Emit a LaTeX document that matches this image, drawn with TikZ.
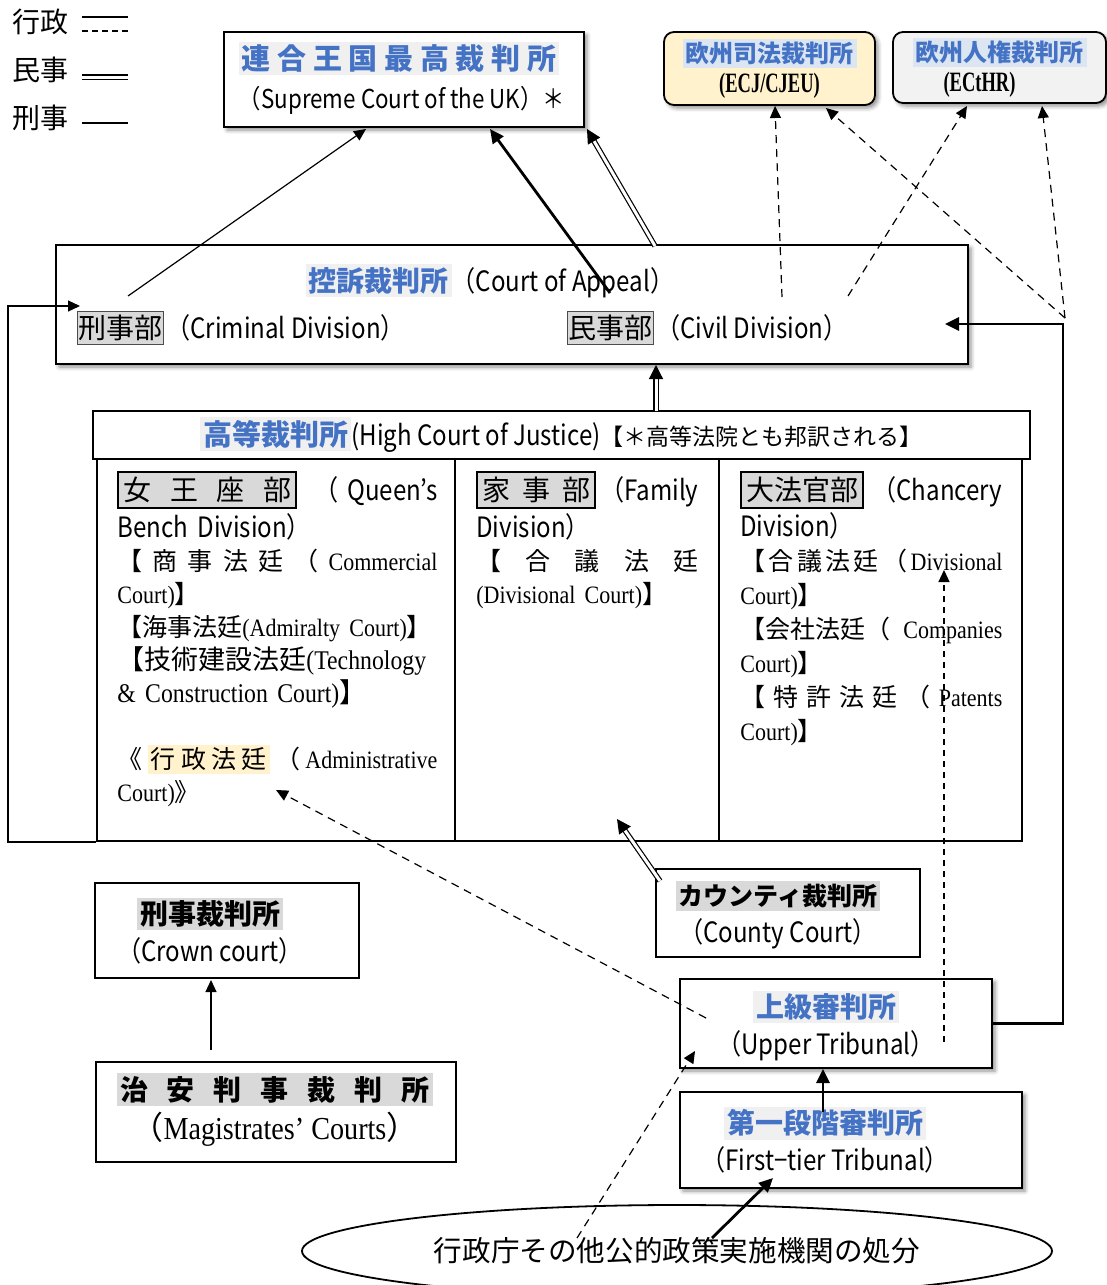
\documentclass[tikz,border=0pt]{standalone}
\usepackage{fontspec}
\setmainfont{Noto Sans CJK JP}
\newfontfamily\enf[FakeStretch=0.86]{Noto Sans CJK JP}
\newfontfamily\romf[FakeStretch=0.88]{Liberation Serif}
\newfontfamily\romc[FakeStretch=0.66]{Liberation Serif}
\usetikzlibrary{positioning, shapes, arrows.meta, shadows.blur, calc}

\definecolor{bluetxt}{HTML}{4472C4}
\definecolor{hlgray}{HTML}{F0F0F0}
\definecolor{hlblue}{HTML}{DCE6F2}
\definecolor{graybox}{HTML}{D9D9D9}
\definecolor{admhl}{HTML}{FFF2CC}
\definecolor{ecjfill}{HTML}{FFF2CC}
\definecolor{echrfill}{HTML}{F2F2F2}

\newcommand{\hlbox}[2]{{\setlength{\fboxsep}{1.5pt}\colorbox{#1}{#2}}}
\newcommand{\bluetitle}[1]{\hlbox{hlgray}{\color{bluetxt}\bfseries #1}}
\newcommand{\graytitle}[1]{\hlbox{graybox}{\bfseries #1}}
\newcommand{\divtag}[1]{{\setlength{\fboxsep}{2pt}\setlength{\fboxrule}{1pt}\fcolorbox{black}{graybox}{#1}}}
\newcommand{\mcsize}{\fontsize{12.5}{16.5}\selectfont}
\newcommand{\ltn}[1]{{\romf #1}}
\newcommand{\civarrow}[2]{%
  \draw[civline, shorten >=6pt] (#1) -- (#2);
  \draw[civtip] ($(#2)!6.5pt!(#1)$) -- (#2);}

\begin{document}
\begin{tikzpicture}[x=0.5pt, y=-0.5pt,
    box/.style={draw, line width=0.9pt, fill=white, inner sep=0pt},
    shbox/.style={box, blur shadow={shadow xshift=1.5pt, shadow yshift=-1.5pt, shadow blur radius=2pt, shadow opacity=45}},
    txt/.style={inner sep=0pt, font=\fontsize{14}{16.5}\selectfont},
    coltxt/.style={txt, anchor=north west, align=left},
    divnode/.style={draw=black!70, fill=graybox, line width=0.5pt, inner xsep=0.5pt, inner ysep=2pt, font=\fontsize{14}{16}\selectfont},
    crimarr/.style={line width=0.6pt, -{Triangle[length=6pt, width=5.5pt]}},
    thickarr/.style={line width=1.4pt, -{Triangle[length=7pt, width=6.5pt]}},
    civline/.style={double, double distance=1.5pt, line width=0.6pt},
    civtip/.style={line width=0.6pt, -{Triangle[length=7pt, width=7pt]}},
    admarr/.style={line width=0.6pt, dash pattern=on 4pt off 3pt, -{Triangle[length=6pt, width=5.5pt]}}]

    \useasboundingbox (0,0) rectangle (1107,1285);
    \clip (0,0) rectangle (1107,1285);

    % legend
    \node[txt, anchor=west] (lgadm) at (12,22) {行政};
    \node[txt, anchor=west] (lgciv) at (12,70) {民事};
    \node[txt, anchor=west] (lgcrim) at (12,118) {刑事};
    \draw[line width=1.4pt] (82,17) -- (128,17);
    \draw[line width=0.6pt, dash pattern=on 3pt off 2pt] (82,31) -- (128,31);
    \draw[civline] (82,77) -- (128,77);
    \draw[line width=0.6pt] (82,123) -- (128,123);

    % courts at the top
    \node[shbox, minimum width=180pt, minimum height=47.5pt] (sc) at (404,79.5) {};
    \node[txt, align=left] (sctxt) at (402,78) {\bluetitle{\fontsize{14.5}{16}\selectfont 連 合 王 国 最 高 裁 判 所}\\[3pt]{\enf\fontsize{13}{15}\selectfont （Supreme Court of the UK）＊}};
    \node[shbox, rounded corners=5pt, fill=ecjfill, minimum width=105.5pt, minimum height=36.5pt, align=center, font=\fontsize{12}{15}\selectfont] (ecj) at (769.5,68.5)
        {\hlbox{hlblue}{\color{bluetxt}\bfseries 欧州司法裁判所}\\{\romc\bfseries\fontsize{14}{15}\selectfont (ECJ/CJEU)}};
    \node[shbox, rounded corners=5pt, fill=echrfill, minimum width=106.5pt, minimum height=35.5pt, align=center, font=\fontsize{12}{15}\selectfont] (echr) at (999.5,67.5)
        {\hlbox{hlblue}{\color{bluetxt}\bfseries 欧州人権裁判所}\\{\romc\bfseries\fontsize{14}{15}\selectfont (ECtHR)\hspace*{20pt}}};

    % court of appeal
    \node[shbox, minimum width=456pt, minimum height=59.5pt] (ca) at (512,304.5) {};
    \node[txt] (catitle) at (490,281) {\bluetitle{控訴裁判所}{\enf（Court of Appeal）}};
    \node[divnode, anchor=west] (crim) at (77,328) {刑事部};
    \node[txt, anchor=west] (crimtxt) at (166,328) {\enf（Criminal Division）};
    \node[divnode, anchor=west] (civ) at (567,328) {民事部};
    \node[txt, anchor=west] (civtxt) at (656,328) {\enf（Civil Division）};

    % high court and its divisions
    \node[box, minimum width=179pt, minimum height=191pt] (qb) at (276,650) {};
    \node[box, minimum width=132pt, minimum height=191pt] (fam) at (587,650) {};
    \node[box, minimum width=151.5pt, minimum height=191pt] (ch) at (870.5,650) {};
    \node[box, minimum width=468.5pt, minimum height=24pt, font=\fontsize{14}{16}\selectfont] (hc) at (561.5,435)
        {\bluetitle{\fontsize{14.5}{16}\selectfont 高等裁判所}{\enf(High Court of Justice)}{\fontsize{11.5}{14}\selectfont【＊高等法院とも邦訳される】}};

    \node[coltxt, text width=160pt] (qbtxt) at (117,471) {%
        \divtag{\makebox[84pt]{女\hfill 王\hfill 座\hfill 部}}\hfill{\enf（ Queen’s}\\[2pt]
        {\enf Bench Division）}\\
        {\mcsize\makebox[\linewidth]{【\hfill 商\hfill 事\hfill 法\hfill 廷\hfill （\hfill\ltn{Commercial}}}\\
        {\mcsize\ltn{Court)}】}\\
        {\mcsize\mbox{【海事法廷\ltn{(Admiralty Court)}】}}\\
        {\fontsize{13.5}{16.5}\selectfont\makebox[\linewidth][l]{【技術建設法廷\ltn{(Technology}}}\\
        {\fontsize{13.5}{16.5}\selectfont\ltn{\& Construction Court)}】}\\[16.5pt]
        {\mcsize\makebox[\linewidth]{《\hfill\hlbox{admhl}{\makebox[58pt]{行\hfill 政\hfill 法\hfill 廷}}\hfill（\hfill\ltn{Administrative}}}\\
        {\mcsize\ltn{Court)}》}};
    \node[coltxt, text width=111pt] (famtxt) at (476,471) {%
        \divtag{\makebox[54pt]{家\hfill 事\hfill 部}}\hfill{\enf（Family}\\[2pt]
        {\enf Division）}\\
        {\mcsize\makebox[\linewidth]{【\hfill 合\hfill 議\hfill 法\hfill 廷}}\\
        {\mcsize\ltn{(Divisional Court)}】}};
    \node[coltxt, text width=131pt, font=\fontsize{14}{17}\selectfont] (chtxt) at (740,471) {%
        \divtag{大法官部}\hfill{\enf（Chancery}\\[1pt]
        {\enf Division）}\\
        {\mcsize\makebox[\linewidth]{【\hfill 合\hfill 議\hfill 法\hfill 廷\hfill （\hfill\ltn{Divisional}}}\\
        {\mcsize\ltn{Court)}】}\\
        {\mcsize\makebox[\linewidth]{【会社法廷（\hfill\ltn{Companies}}}\\
        {\mcsize\ltn{Court)}】}\\
        {\mcsize\makebox[\linewidth]{【\hfill 特\hfill 許\hfill 法\hfill 廷\hfill （\hfill\ltn{Patents}}}\\
        {\mcsize\ltn{Court)}】}};

    % lower courts and tribunals
    \node[box, minimum width=132pt, minimum height=44pt] (county) at (788,913) {};
    \node[txt, align=center] (countytxt) at (778,915) {\graytitle{\fontsize{12.5}{14}\selectfont カウンティ裁判所}\\[2pt]{\enf（County Court）}};
    \node[box, minimum width=132pt, minimum height=47.5pt] (crown) at (227,930.5) {};
    \node[txt, align=center] (crowntxt) at (210,931) {\graytitle{刑事裁判所}\\[2pt]{\enf（Crown court）}};
    \node[box, minimum width=180pt, minimum height=50pt] (mag) at (276,1112) {};
    \node[txt, align=center] (magtxt) at (275,1110) {\graytitle{\makebox[155pt]{治\hfill 安\hfill 判\hfill 事\hfill 裁\hfill 判\hfill 所}}\\[2pt]{\fontsize{16}{18}\selectfont （\ltn{Magistrates’ Courts}）}};
    \node[shbox, minimum width=156pt, minimum height=44.5pt] (ut) at (836,1023.5) {};
    \node[txt, align=center] (uttxt) at (826,1026) {\bluetitle{上級審判所}\\[2pt]{\enf（Upper Tribunal）}};
    \node[shbox, minimum width=171pt, minimum height=48pt] (ft) at (851,1140) {};
    \node[txt, align=center] (fttxt) at (825,1140) {\bluetitle{第一段階審判所}\\[2pt]{\enf（First−tier Tribunal）}};
    \node[draw, ellipse, line width=0.9pt, fill=white, minimum width=375pt, minimum height=46pt, font=\fontsize{14.3}{16}\selectfont] (disp) at (677,1251) {行政庁その他公的政策実施機関の処分};

    % ends of the connectors
    \coordinate (crimUp) at (128,296);
    \coordinate (scCrim) at (366,129);
    \coordinate (civUp) at (610,293);
    \coordinate (scThick) at (490,129);
    \coordinate (caTop) at (655,246);
    \coordinate (scCorner) at (587,129);
    \coordinate (hcTop) at (656,411);
    \coordinate (caBot) at (656,365);
    \coordinate (ecjUp) at (782,297);
    \coordinate (ecjBot) at (775,106);
    \coordinate (echrUp) at (848,296);
    \coordinate (echrBot) at (967,106);
    \coordinate (euSplit) at (1065,318);
    \coordinate (ecjSide) at (826,108);
    \coordinate (echrSide) at (1042,106);
    \coordinate (jct) at (1063,324);
    \coordinate (civIn) at (945,324);
    \coordinate (utDash) at (944,1042);
    \coordinate (chDiv) at (944,570);
    \coordinate (utAdm) at (706,1018);
    \coordinate (admCourt) at (276,790);
    \coordinate (countyUp) at (660,881);
    \coordinate (famIn) at (617,819);
    \coordinate (magUp) at (211,1050);
    \coordinate (crownBot) at (211,980);
    \coordinate (ftUp) at (823,1112);
    \coordinate (utBot) at (823,1069);
    \coordinate (dispL) at (577,1238);
    \coordinate (utCorner) at (695,1051);
    \coordinate (dispR) at (712,1238);
    \coordinate (ftIn) at (773,1178);
    \coordinate (loopT) at (8,306);
    \coordinate (crimIn) at (80,306);

    % criminal appeals
    \draw[crimarr] (crimUp) -- (scCrim);
    \draw[crimarr] (qb.south west) -| (loopT) -- (crimIn);
    \draw[crimarr] (magUp) -- (crownBot);

    % civil appeals
    \civarrow{caTop}{scCorner}
    \civarrow{hcTop}{caBot}
    \civarrow{countyUp}{famIn}

    % thick lines
    \draw[thickarr] (civUp) -- (scThick);
    \draw[thickarr] (ut.east) -| (jct) -- (civIn);
    \draw[thickarr] (ftUp) -- (utBot);
    \draw[thickarr] (dispR) -- (ftIn);

    % administrative
    \draw[admarr] (ecjUp) -- (ecjBot);
    \draw[admarr] (echrUp) -- (echrBot);
    \draw[admarr] (euSplit) -- (ecjSide);
    \draw[admarr] (euSplit) -- (echrSide);
    \draw[admarr, dash pattern=on 3pt off 2.5pt] (utDash) -- (chDiv);
    \draw[admarr] (utAdm) -- (admCourt);
    \draw[admarr] (dispL) -- (utCorner);
\end{tikzpicture}
\end{document}
